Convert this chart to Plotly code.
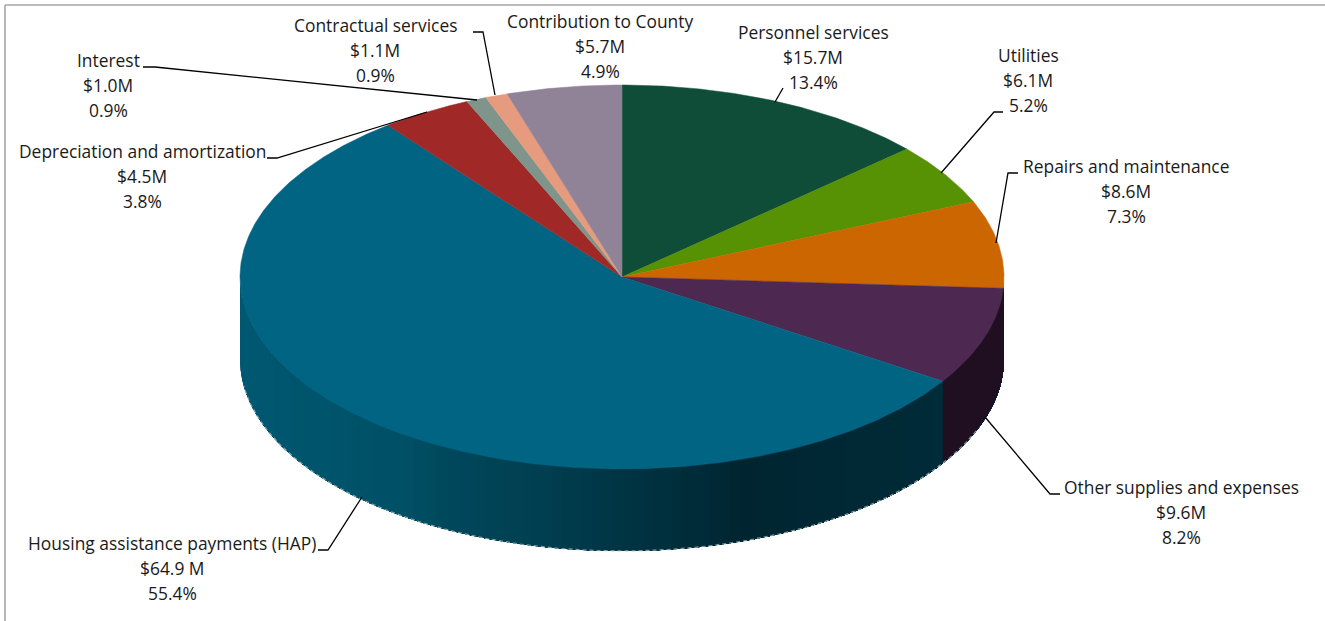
import numpy as np
import plotly.graph_objects as go

# Operating expenses by category, in millions of dollars
categories = ["Personnel services", "Utilities", "Repairs and maintenance",
              "Other supplies and expenses", "Housing assistance payments (HAP)",
              "Depreciation and amortization", "Interest", "Contractual services",
              "Contribution to County"]
values_m = [15.7, 6.1, 8.6, 9.6, 64.9, 4.5, 1.0, 1.1, 5.7]
amount_labels = ["$15.7M", "$6.1M", "$8.6M", "$9.6M", "$64.9 M", "$4.5M", "$1.0M", "$1.1M", "$5.7M"]
percent_labels = ["13.4%", "5.2%", "7.3%", "8.2%", "55.4%", "3.8%", "0.9%", "0.9%", "4.9%"]
top_colors = ["#0F4D38", "#579104", "#CC6600", "#4D2951", "#006482",
              "#A02826", "#7F958B", "#E69B7E", "#918397"]

# Label anchors: centre x and the row centre of the first text line
label_x = [813, 1028, 1126, 1181, 172, 142, 108, 375, 600]
label_y = [32, 55, 166, 487, 543, 151, 60, 25, 21]
line_gap = 25

leaders = [
    ([783, 775], [88, 102]),
    ([1003, 994, 941], [112, 112, 173]),
    ([1018, 1008, 996], [173, 173, 243]),
    ([1060, 1050, 985], [494, 494, 417]),
    ([318, 328, 362], [550, 550, 497]),
    ([267, 277, 427], [158, 158, 112]),
    ([143, 155, 477], [67, 67, 100]),
    ([473, 483, 495], [32, 32, 95]),
]

# Disc geometry on the pixel-scaled axes
CX, CY, RX, RY, DEPTH = 622, 277, 382, 192, 82

# Wall shading along the horizontal position of the rim
shade_x = [240, 400, 440, 540, 620, 740, 945]
shade_g = [88, 80, 72, 62, 52, 37, 43]
shade_b = [113, 102, 92, 80, 67, 49, 56]
OTHER_WALL = "#1F0F21"


def rim(angle_deg):
    a = np.radians(angle_deg)
    return CX + RX * np.sin(a), CY - RY * np.cos(a)


total = sum(values_m)
edges = np.concatenate([[0], np.cumsum(values_m) / total * 360])

fig = go.Figure()


def add_polygon(xs, ys, color, stroke=0.0):
    fig.add_trace(go.Scatter(x=xs, y=ys, mode="lines", fill="toself", fillcolor=color,
                             line=dict(color=color, width=stroke), hoverinfo="skip",
                             showlegend=False))


# Front wall of the disc: overlapping strips, each painted over the previous one
strip_edges = np.arange(270, edges[3] - 0.01, -1.5)
for a0 in strip_edges:
    arc = np.linspace(a0, edges[3], 60)
    x, y = rim(arc)
    rim_x = CX + RX * np.sin(np.radians(a0))
    g = np.interp(rim_x, shade_x, shade_g)
    b = np.interp(rim_x, shade_x, shade_b)
    add_polygon(list(x) + list(x[::-1]), list(y) + list(y[::-1] + DEPTH),
                f"rgb(0,{g:.0f},{b:.0f})")

# The narrower dark wall of the slice that ends at the housing slice
arc = np.linspace(90, edges[4], 40)
x, y = rim(arc)
add_polygon(list(x) + list(x[::-1]), list(y) + list(y[::-1] + DEPTH), OTHER_WALL)

# Pale, broken lower edge of the wall
arc = np.linspace(112, 262, 240)
x, y = rim(arc)
fig.add_trace(go.Scatter(x=x, y=y + DEPTH, mode="lines", hoverinfo="skip", showlegend=False,
                         line=dict(color="rgba(170,190,195,0.75)", width=1.3, dash="4px,3px")))

# Top face, one sector per category
for start, stop, color in zip(edges[:-1], edges[1:], top_colors):
    arc = np.linspace(start, stop, max(int(stop - start) * 2, 6))
    x, y = rim(arc)
    add_polygon([CX] + list(x) + [CX], [CY] + list(y) + [CY], color, 0.5)

# Leader lines from labels to their slices
for lx, ly in leaders:
    fig.add_trace(go.Scatter(x=lx, y=ly, mode="lines", line=dict(color="black", width=1.3),
                             hoverinfo="skip", showlegend=False))

# Three-row labels
for name, amount, pct, x0, y0 in zip(categories, amount_labels, percent_labels, label_x, label_y):
    for row, text in enumerate([name, amount, pct]):
        fig.add_annotation(x=x0, y=y0 + row * line_gap, text=text, showarrow=False,
                           xanchor="center", yanchor="middle",
                           font=dict(family="Open Sans, sans-serif", size=17.4, color="#1a1a1a"))

# Chart frame: only its top and left sides fall inside the page
frame = dict(type="line", line=dict(color="#A6A6A6", width=1.6), layer="below")
fig.update_layout(
    width=1325, height=621, margin=dict(l=0, r=0, t=0, b=0),
    paper_bgcolor="white", plot_bgcolor="white", showlegend=False,
    xaxis=dict(range=[0, 1325], visible=False, fixedrange=True),
    yaxis=dict(range=[621, 0], visible=False, fixedrange=True),
    shapes=[dict(frame, x0=5, x1=1325, y0=5, y1=5),
            dict(frame, x0=5, x1=5, y0=5, y1=621)],
)

fig.write_html("out.html", config=dict(displayModeBar=False))
